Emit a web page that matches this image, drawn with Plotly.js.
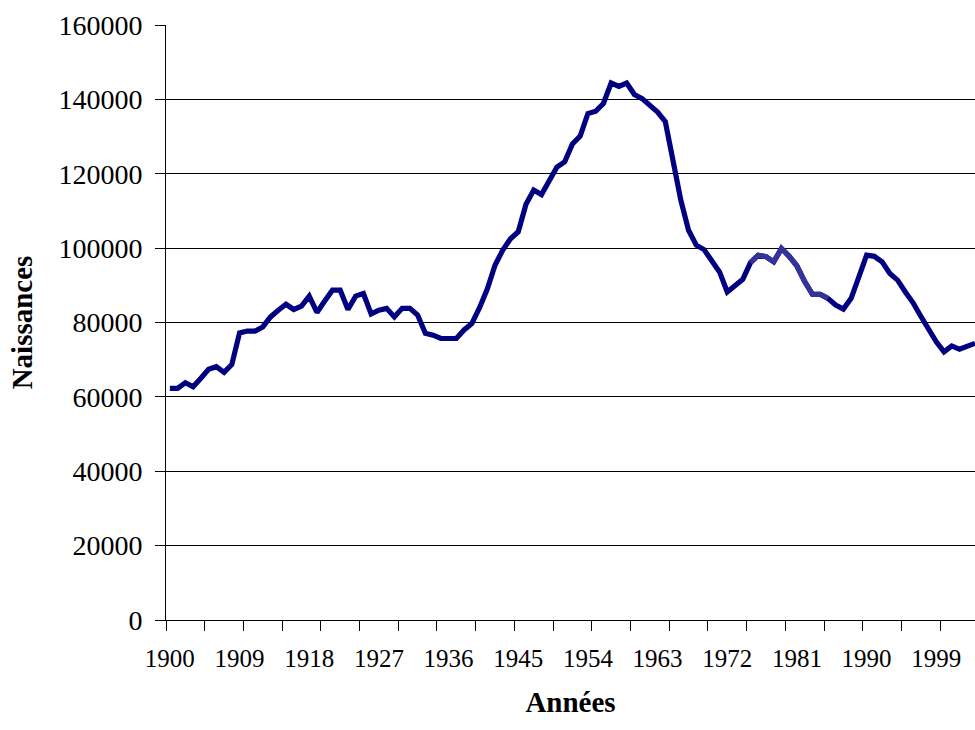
<!DOCTYPE html>
<html>
<head>
<meta charset="utf-8">
<script src="https://cdn.plot.ly/plotly-3.0.1.min.js"></script>
<style>html,body{margin:0;padding:0;background:#fff;}</style>
</head>
<body>
<div id="chart" style="width:975px;height:730px;"></div>
<script>
const years = [1900,1901,1902,1903,1904,1905,1906,1907,1908,1909,
  1910,1911,1912,1913,1914,1915,1916,1917,1918,1919,
  1920,1921,1922,1923,1924,1925,1926,1927,1928,1929,
  1930,1931,1932,1933,1934,1935,1936,1937,1938,1939,
  1940,1941,1942,1943,1944,1945,1946,1947,1948,1949,
  1950,1951,1952,1953,1954,1955,1956,1957,1958,1959,
  1960,1961,1962,1963,1964,1965,1966,1967,1968,1969,
  1970,1971,1972,1973,1974,1975,1976,1977,1978,1979,
  1980,1981,1982,1983,1984,1985,1986,1987,1988,1989,
  1990,1991,1992,1993,1994,1995,1996,1997,1998,1999,
  2000,2001,2002,2003,2004];

const naissances = [62300,62300,63800,62700,65000,67400,68100,66600,68700,77200,
  77700,77700,78800,81500,83300,84900,83500,84400,87100,82700,
  85800,88700,88700,83500,87100,87800,82300,83300,83800,81500,
  83800,83800,82000,77100,76600,75700,75700,75700,78000,79700,
  84000,89000,95400,99500,102500,104400,111800,115600,114400,117800,
  121800,123200,128000,130100,136200,136800,138900,144400,143500,144400,
  141300,140200,138400,136600,134000,122800,112900,104800,100800,99600,
  96800,93600,88200,90100,91600,96100,98100,97700,96300,99900,
  97800,95200,91000,87600,87600,86500,84700,83600,86500,92300,
  98100,97800,96300,93200,91400,88200,85300,81700,78100,74800,
  72100,73700,72800,73700,74400];

// years drawn in a lighter shade in the original
const lightYears = [1975,1976,1977,1978,1979,1980,1981,1982,1983,1984,1985];

const xLabelYears = [1900,1909,1918,1927,1936,1945,1954,1963,1972,1981,1990,1999];
const xTickBounds = [1899.5,1904.5,1909.5,1914.5,1919.5,1924.5,1929.5,1934.5,1939.5,1944.5,
  1949.5,1954.5,1959.5,1964.5,1969.5,1974.5,1979.5,1984.5,1989.5,1994.5,1999.5];
const yTicks = [0,20000,40000,60000,80000,100000,120000,140000,160000];

const lightX = years.filter(y => lightYears.includes(y));
const lightY = lightX.map(y => naissances[years.indexOf(y)]);

const xRange = [1899.5, 2004];
const serif = 'Liberation Serif, Times New Roman, serif';

const traces = [
  {x: years, y: naissances, type: 'scatter', mode: 'lines',
   line: {color: '#000080', width: 5.2}, hoverinfo: 'x+y', showlegend: false},
  {x: lightX, y: lightY, type: 'scatter', mode: 'lines',
   line: {color: '#33339a', width: 5.2}, hoverinfo: 'x+y', showlegend: false},
  {x: [1950], y: [0], xaxis: 'x2', type: 'scatter', mode: 'lines',
   line: {color: 'rgba(0,0,0,0)'}, hoverinfo: 'skip', showlegend: false}
];

const layout = {
  width: 975, height: 730,
  margin: {l: 166, r: 0, t: 25, b: 110, pad: 0},
  paper_bgcolor: '#ffffff', plot_bgcolor: '#ffffff',
  font: {family: serif, color: '#000000', size: 24},
  showlegend: false,
  xaxis: {
    range: xRange, fixedrange: true,
    tickmode: 'array', tickvals: xLabelYears, ticktext: xLabelYears.map(String),
    ticks: '', showgrid: false, zeroline: false,
    showline: true, linecolor: '#000000', linewidth: 1,
    tickfont: {family: serif, size: 25, color: '#000000'},
    ticklabelstandoff: 16,
    title: {text: 'Années', font: {family: serif, size: 29, color: '#000000', weight: 'bold'}, standoff: 20}
  },
  xaxis2: {
    range: xRange, overlaying: 'x', anchor: 'y', side: 'bottom', fixedrange: true,
    tickmode: 'array', tickvals: xTickBounds, ticks: 'outside', ticklen: 10,
    tickcolor: '#000000', tickwidth: 1, showticklabels: false,
    showgrid: false, zeroline: false, showline: false
  },
  yaxis: {
    range: [0, 160000], fixedrange: true,
    tickmode: 'array', tickvals: yTicks, ticktext: yTicks.map(String),
    ticks: 'outside', ticklen: 10, tickcolor: '#000000', tickwidth: 1,
    showgrid: true, gridcolor: '#000000', gridwidth: 1,
    zeroline: false, showline: true, linecolor: '#000000', linewidth: 1,
    tickfont: {family: serif, size: 28, color: '#000000'},
    ticklabelstandoff: 7,
    title: {text: 'Naissances', font: {family: serif, size: 29, color: '#000000', weight: 'bold'}, standoff: 17}
  }
};

Plotly.newPlot('chart', traces, layout, {displayModeBar: false, staticPlot: true});
</script>
</body>
</html>
